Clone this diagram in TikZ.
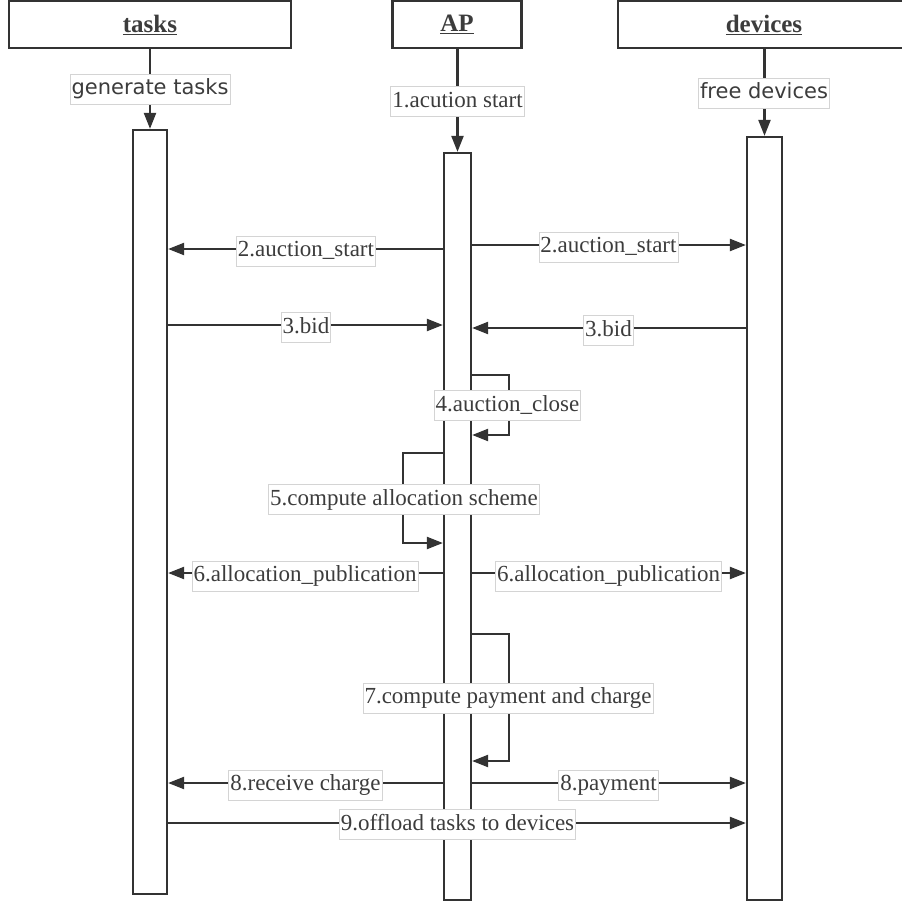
\documentclass[tikz,border=0pt]{standalone}
\usepackage{fontspec}
\setmainfont{Liberation Serif}
\newfontfamily\lblsans{DejaVu Sans}
\usetikzlibrary{arrows.meta}
\definecolor{ink}{HTML}{333333}
\definecolor{txt}{HTML}{3C3C3C}
\definecolor{lblborder}{HTML}{D4D4D4}
\begin{document}
\begin{tikzpicture}[x=1pt,y=-1pt,
 hdr/.style={draw=ink, line width=2.4pt, fill=white, inner sep=0pt, font=\fontsize{25}{30}\selectfont\bfseries, text=txt},
 bar/.style={draw=ink, line width=2.2pt, fill=white, inner sep=0pt},
 msg/.style={draw=ink, line width=2.2pt, -{Triangle[length=16pt,width=12pt]}},
 lbl/.style={draw=lblborder, line width=0.8pt, fill=white, inner xsep=1.5pt, inner ysep=4.5pt, text=txt, font=\fontsize{23}{27}\selectfont, text height=16pt, text depth=5pt},
 slbl/.style={lbl, font=\lblsans\fontsize{21}{25}\selectfont},
]
\useasboundingbox (0,0) rectangle (902,906);

% headers
\node[hdr, minimum width=282pt, minimum height=47pt] (tasksH) at (150,24.5) {\underline{tasks}};
\node[hdr, minimum width=129pt, minimum height=47pt] (apH) at (457,24.5) {\underline{AP}};
\node[hdr, minimum width=292pt, minimum height=47pt] (devH) at (764,24.5) {\underline{devices}};

% activation bars
\node[bar, minimum width=34pt, minimum height=764pt] (tb) at (150,512) {};
\node[bar, minimum width=27pt, minimum height=747pt] (ap) at (457.5,526.5) {};
\node[bar, minimum width=35pt, minimum height=763pt] (dv) at (764.5,518.5) {};

% header to bar
\draw[msg] (tasksH.south -| tb.north) -- (tb.north);
\draw[msg] (apH.south -| ap.north) -- (ap.north);
\draw[msg] (devH.south -| dv.north) -- (dv.north);
\node[slbl] (gt) at (150,89) {generate tasks};
\node[lbl] (as) at (457.5,101.5) {1.acution start};
\node[slbl] (fd) at (764,93) {free devices};

% messages
\draw[msg] (ap.west |- 0,249) -- (tb.east |- 0,249);
\draw[msg] (ap.east |- 0,245) -- (dv.west |- 0,245);
\draw[msg] (tb.east |- 0,325) -- (ap.west |- 0,325);
\draw[msg] (dv.west |- 0,328) -- (ap.east |- 0,328);
\draw[msg] (ap.east |- 0,375) -- ++(37,0) |- (ap.east |- 0,435);
\draw[msg] (ap.west |- 0,453) -- ++(-40,0) |- (ap.west |- 0,543);
\draw[msg] (ap.west |- 0,573) -- (tb.east |- 0,573);
\draw[msg] (ap.east |- 0,573) -- (dv.west |- 0,573);
\draw[msg] (ap.east |- 0,634) -- ++(37,0) |- (ap.east |- 0,761);
\draw[msg] (ap.west |- 0,783) -- (tb.east |- 0,783);
\draw[msg] (ap.east |- 0,783) -- (dv.west |- 0,783);
\draw[msg] (tb.east |- 0,823) -- (dv.west |- 0,823);

% labels
\node[lbl] (m2a) at (306,251) {2.auction\_start};
\node[lbl] (m2b) at (608.5,247) {2.auction\_start};
\node[lbl] (m3a) at (306,327.5) {3.bid};
\node[lbl] (m3b) at (608.5,330.5) {3.bid};
\node[lbl] (m4) at (507.5,405.5) {4.auction\_close};
\node[lbl] (m5) at (404,499.5) {5.compute allocation scheme};
\node[lbl] (m6a) at (305,576) {6.allocation\_publication};
\node[lbl] (m6b) at (608.5,576) {6.allocation\_publication};
\node[lbl] (m7) at (508,698) {7.compute payment and charge};
\node[lbl] (m8a) at (305.5,785) {8.receive charge};
\node[lbl] (m8b) at (608.5,785) {8.payment};
\node[lbl] (m9) at (457.5,824.5) {9.offload tasks to devices};
\end{tikzpicture}
\end{document}
